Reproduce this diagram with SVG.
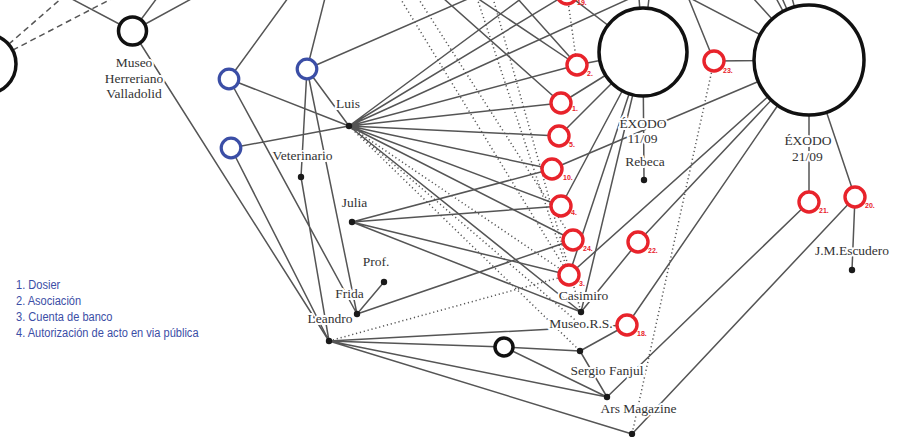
<svg xmlns="http://www.w3.org/2000/svg" width="907" height="437" viewBox="0 0 907 437">
<style>
.e{stroke:#555;stroke-width:1.5;fill:none}
.d{stroke-dasharray:6 4}
.p{stroke-dasharray:1.2 2.8}
.t{font-family:"Liberation Serif","Times New Roman",serif;font-size:13.5px;fill:#333;text-anchor:middle;paint-order:stroke;stroke:#fff;stroke-width:4px;stroke-linejoin:round}
.rc{fill:#fff;stroke:#e8232b;stroke-width:3.4}
.rl{font-family:"Liberation Sans",Arial,sans-serif;font-size:7px;font-weight:bold;fill:#e8232b}
.bc{fill:#fff;stroke:#3b4ea6;stroke-width:3.2}
.kc{fill:#fff;stroke:#111;stroke-width:3.5}
.dot{fill:#1a1a1a}
.lg{font-family:"Liberation Sans",Arial,sans-serif;font-size:13.5px;fill:#3b4ea6}
</style>
<rect width="907" height="437" fill="#fff"/>
<g id="connectors" class="e">
<path class="d" d="M-14 64L63 -3M-14 64L115 -3"/>
<path d="M70 -2L132.5 31M157 -2L132.5 31M193 -2L132.5 31M132.5 31L329 341"/>
<path d="M288 -2L229 79M325 -2L307 69M307 69L470 -2M229 79L349 126M307 69L349 126M231 148L349 126M229 79L357 314M307 69L357 314M307 69L301 177M301 177L329 341M231 148L329 341"/>
<path d="M349 126L522 -2M349 126L567 -6M349 126L631 -2M349 126L577 65M349 126L561 103M349 126L559 136M349 126L552 169M349 126L561 206M349 126L573 240M349 126L581 312"/>
<path d="M352 222L552 169M352 222L561 206M352 222L569 275M352 222L581 312M357 314L384 282M357 314L573 240"/>
<path d="M329 341L627 325M329 341L504 347M329 341L607 397M329 341L632 434M504 347L580 351M504 347L607 397M580 351L627 325M580 351L607 397"/>
<path d="M443 -2L561 103M477 -2L577 65M517 -2L577 65"/>
<path d="M567 -6L643 52M577 65L643 52M561 103L643 52M559 136L643 52M561 206L643 52M569 275L643 52M581 312L643 52M639 -2L643 52M649 -2L643 52M643 52L644 180"/>
<path d="M688 -3L714 61M688 -3L809 60M714 61L809 60M753 -2L809 60M776 -2L809 60M782 -2L809 60M792 -2L809 60"/>
<path d="M809 60L552 169M809 60L569 275M809 60L638 242M809 60L627 325M809 60L809 202M809 60L855 197M638 242L581 312M855 197L852 270M809 202L607 397M855 197L632 434"/>
<path class="p" d="M400 -2L569 275M418 -2L573 240M477 -2L569 275M493 -2L581 312M349 126L569 275M349 126L580 351M349 126L581 325M567 -6L577 65M329 341L569 275M714 61L632 434"/>
</g>
<g id="n-left"><circle class="kc" cx="-14" cy="64" r="30" stroke-width="3"/></g>
<g id="n-museo-herreriano"><circle class="kc" cx="132.5" cy="31" r="14"/><text class="t" x="134" y="67">Museo</text><text class="t" x="134" y="83">Herreriano</text><text class="t" x="134" y="98">Valladolid</text></g>
<g id="n-b1"><circle class="bc" cx="229" cy="79" r="9.8"/></g>
<g id="n-b2"><circle class="bc" cx="307" cy="69" r="9.8"/></g>
<g id="n-b3"><circle class="bc" cx="231" cy="148" r="9.8"/></g>
<g id="n-luis"><circle class="dot" cx="349" cy="126" r="3.2"/><text class="t" x="348" y="108">Luis</text></g>
<g id="n-veterinario"><circle class="dot" cx="301" cy="177" r="3.2"/><text class="t" x="302.5" y="160">Veterinario</text></g>
<g id="n-julia"><circle class="dot" cx="352" cy="222" r="3.2"/><text class="t" x="354.5" y="207">Julia</text></g>
<g id="n-prof"><circle class="dot" cx="384" cy="282" r="3.2"/><text class="t" x="376" y="266">Prof.</text></g>
<g id="n-frida"><circle class="dot" cx="357" cy="314" r="3.2"/><text class="t" x="349.5" y="297.5">Frida</text></g>
<g id="n-leandro"><circle class="dot" cx="329" cy="341" r="3.2"/><text class="t" x="330" y="323">Leandro</text></g>
<g id="n-exodo1"><circle class="kc" cx="643" cy="52" r="44"/><text class="t" x="643" y="127.5">ÉXODO</text><text class="t" x="642.5" y="143">11/09</text></g>
<g id="n-rebeca"><circle class="dot" cx="644" cy="180" r="3.2"/><text class="t" x="645" y="166">Rebeca</text></g>
<g id="n-exodo2"><circle class="kc" cx="809" cy="60" r="55" stroke-width="4"/><text class="t" x="808" y="145">ÉXODO</text><text class="t" x="807.5" y="160.5">21/09</text></g>
<g id="n-escudero"><circle class="dot" cx="852" cy="270" r="3.2"/><text class="t" x="852" y="255">J.M.Escudero</text></g>
<g id="n-casimiro"><circle class="dot" cx="581" cy="312" r="3.2"/><text class="t" x="583.5" y="300">Casimiro</text></g>
<g id="n-museors"><text class="t" x="581" y="328">Museo.R.S.</text></g>
<g id="n-black"><circle class="kc" cx="504" cy="347" r="9"/></g>
<g id="n-sergio"><circle class="dot" cx="580" cy="351" r="3.2"/><text class="t" x="607" y="375">Sergio Fanjul</text></g>
<g id="n-ars"><circle class="dot" cx="607" cy="397" r="3.2"/><text class="t" x="638.5" y="413">Ars Magazine</text></g>
<g id="n-bottom"><circle class="dot" cx="632" cy="434" r="3.2"/></g>
<g id="n-r19"><circle class="rc" cx="567" cy="-6" r="10"/><text class="rl" x="577" y="5">19.</text></g>
<g id="n-r2"><circle class="rc" cx="577" cy="65" r="10"/><text class="rl" x="587" y="76">2.</text></g>
<g id="n-r1"><circle class="rc" cx="561" cy="103" r="10"/><text class="rl" x="572" y="111">1.</text></g>
<g id="n-r5"><circle class="rc" cx="559" cy="136" r="10"/><text class="rl" x="569" y="147">5.</text></g>
<g id="n-r10"><circle class="rc" cx="552" cy="169" r="10"/><text class="rl" x="563" y="180">10.</text></g>
<g id="n-r4"><circle class="rc" cx="561" cy="206" r="10"/><text class="rl" x="571" y="215">4.</text></g>
<g id="n-r24"><circle class="rc" cx="573" cy="240" r="10"/><text class="rl" x="583" y="251">24.</text></g>
<g id="n-r3"><circle class="rc" cx="569" cy="275" r="10"/><text class="rl" x="579" y="286">3.</text></g>
<g id="n-r22"><circle class="rc" cx="638" cy="242" r="10"/><text class="rl" x="648" y="253">22.</text></g>
<g id="n-r18"><circle class="rc" cx="627" cy="325" r="10"/><text class="rl" x="637" y="336">18.</text></g>
<g id="n-r23"><circle class="rc" cx="714" cy="61" r="10"/><text class="rl" x="723" y="73">23.</text></g>
<g id="n-r21"><circle class="rc" cx="809" cy="202" r="10"/><text class="rl" x="819" y="213">21.</text></g>
<g id="n-r20"><circle class="rc" cx="855" cy="197" r="10"/><text class="rl" x="865" y="208">20.</text></g>
<g id="legend" transform="translate(16,0) scale(0.82,1)">
<text class="lg" x="0" y="289">1. Dosier</text>
<text class="lg" x="0" y="305">2. Asociación</text>
<text class="lg" x="0" y="321">3. Cuenta de banco</text>
<text class="lg" x="0" y="337">4. Autorización de acto en via pública</text>
</g>
</svg>
